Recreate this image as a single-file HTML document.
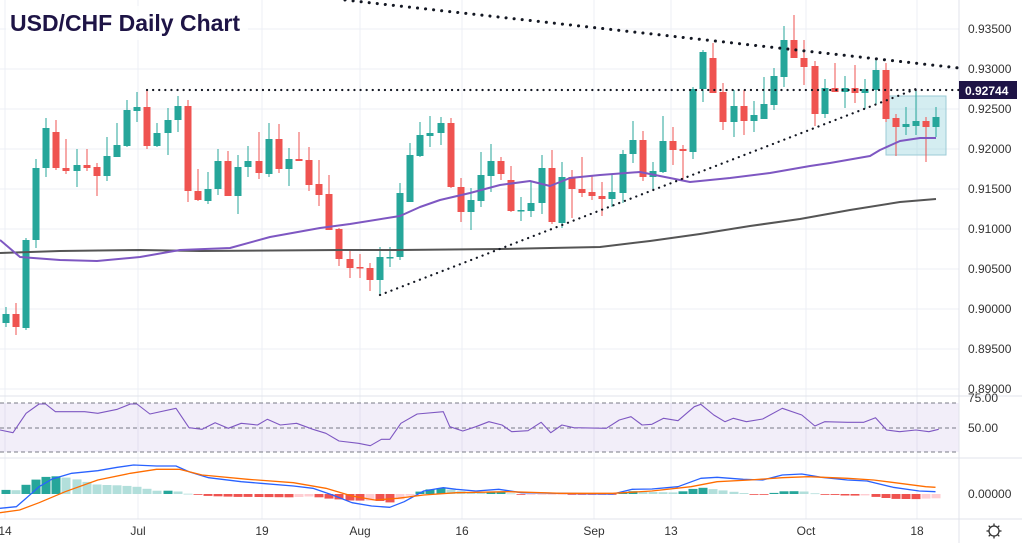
<!DOCTYPE html>
<html><head><meta charset="utf-8"><style>
html,body{margin:0;padding:0;background:#fff;}
svg{display:block;font-family:"Liberation Sans",sans-serif;}
</style></head><body>
<svg id="c" width="1022" height="543" viewBox="0 0 1022 543" xmlns="http://www.w3.org/2000/svg"></svg>
<script>
const S=document.getElementById('c');let h='';
function L(x1,y1,x2,y2,c,w,extra){h+=`<line x1="${x1}" y1="${y1}" x2="${x2}" y2="${y2}" stroke="${c}" stroke-width="${w}" ${extra||''}/>`;}
function T(x,y,t,s,c,extra){h+=`<text x="${x}" y="${y}" font-size="${s}" fill="${c}" ${extra||''}>${t}</text>`;}
function P(pts,c,w,extra){h+=`<polyline fill="none" stroke="${c}" stroke-width="${w}" stroke-linejoin="round" points="${pts.map(p=>p.join(',')).join(' ')}" ${extra||''}/>`;}
const gy=[29,69,109,149,189,229,269,309,349,389];
gy.forEach(y=>L(0,y,959,y,'#eceff5',1));
const dx=[[5,'14'],[138,'Jul'],[262,'19'],[360,'Aug'],[462,'16'],[594,'Sep'],[671,'13'],[806,'Oct'],[917,'18']];
dx.forEach(d=>L(d[0],0,d[0],519,'#eceff5',1));
h+=`<rect x="0" y="403" width="959" height="49" fill="#7e57c2" fill-opacity="0.1"/>`;
[403,428,452].forEach(y=>L(0,y,959,y,'#787b86',1,'stroke-dasharray="4,3"'));
L(0,396,1022,396,'#e0e3eb',1);L(0,458,1022,458,'#e0e3eb',1);L(0,519,1022,519,'#e0e3eb',1);
L(959,0,959,543,'#e0e3eb',1);
h+=`<rect x="886" y="96" width="60" height="59" fill="#9fd6e0" fill-opacity="0.45" stroke="#9ccbd6" stroke-width="1"/>`;
const C=[[6,'g',314,323,307,327],[16,'r',314,327,303,335],[26,'g',240,328,238,330],[36,'g',168,240,159,248],[46,'g',128,168,118,177],[56,'r',132,168,120,170],[66,'r',168,171,139,174],[77,'g',165,171,149,187],[87,'r',165,168,149,171],[97,'r',167,176,163,196],[107,'g',156,176,137,181],[117,'g',145,157,123,157],[127,'g',110,146,100,147],[137,'g',107,111,92,122],[147,'r',107,146,89,149],[157,'g',133,146,123,147],[168,'g',120,133,108,155],[178,'g',106,120,96,132],[188,'r',106,191,100,202],[198,'r',191,200,169,201],[208,'g',189,201,172,204],[218,'g',161,189,149,195],[228,'r',161,196,151,196],[238,'g',167,196,155,214],[248,'g',161,167,146,177],[259,'r',161,173,132,179],[269,'g',139,174,123,177],[279,'r',139,169,124,173],[289,'g',159,169,148,186],[299,'r',159,161,132,161],[309,'r',160,185,147,191],[319,'r',184,195,160,206],[329,'r',194,230,175,230],[339,'r',229,259,228,266],[350,'r',259,268,249,278],[360,'r',267,268,254,278],[370,'r',268,280,263,291],[380,'g',257,280,247,296],[390,'g',257,258,247,267],[400,'g',193,257,183,260],[410,'g',155,202,143,202],[420,'g',135,156,122,157],[430,'g',133,136,116,147],[441,'g',123,133,117,145],[451,'r',123,187,118,188],[461,'r',187,212,178,222],[471,'g',200,212,188,230],[481,'g',175,201,152,207],[491,'g',161,176,144,192],[501,'r',161,174,157,180],[511,'r',180,211,166,212],[521,'g',210,211,197,221],[531,'g',203,211,182,217],[542,'g',168,203,155,214],[552,'r',168,222,150,224],[562,'g',177,223,162,228],[572,'r',177,189,170,218],[582,'r',189,193,157,197],[592,'r',192,196,175,200],[602,'r',196,199,182,216],[612,'g',192,199,174,207],[623,'g',154,193,150,203],[633,'g',140,154,121,163],[643,'r',140,177,131,181],[653,'g',171,177,162,189],[663,'g',141,172,116,173],[673,'r',141,150,127,165],[683,'r',149,151,145,180],[693,'g',89,152,87,159],[703,'g',52,89,50,102],[713,'r',58,93,43,93],[723,'r',92,122,83,130],[734,'g',106,122,90,137],[744,'r',106,121,90,135],[754,'g',115,121,101,132],[764,'g',104,119,77,119],[774,'g',76,105,68,110],[784,'g',40,77,26,87],[794,'r',40,58,15,58],[804,'r',58,67,40,85],[815,'r',66,114,61,126],[825,'g',88,114,79,118],[835,'r',88,92,63,92],[845,'g',88,92,76,108],[855,'r',88,93,65,103],[865,'g',89,93,79,109],[876,'g',70,90,58,105],[886,'r',70,119,63,122],[896,'r',118,127,114,156],[906,'g',124,127,107,135],[916,'g',121,126,89,135],[926,'r',121,127,117,162],[936,'g',117,127,107,137]];
C.forEach(c=>{const col=c[1]=='g'?'#26a69a':'#ef5350';L(c[0],c[4],c[0],c[5],col,1);h+=`<rect x="${c[0]-3.5}" y="${c[2]}" width="7" height="${Math.max(1.5,c[3]-c[2])}" fill="${col}"/>`;});
P([[0,253],[60,251],[140,250],[200,251],[340,250],[400,250],[500,249],[550,248],[600,247],[650,241],[700,234],[750,226],[800,219],[850,210],[900,202],[936,199]],'#555',2);
P([[0,240],[20,257],[60,260],[97,261],[140,257],[180,250],[230,248],[270,237],[320,228],[350,224],[400,216],[420,207],[440,200],[470,193],[500,185],[530,181],[550,186],[570,178],[600,175],[640,172],[680,180],[690,182],[730,178],[770,173],[810,166],[830,163],[870,156],[880,150],[900,141],[920,138],[936,138]],'#7e57c2',2);
L(345,0,959,68,'#131722',3,'stroke-dasharray="0.1,8" stroke-linecap="round"');
L(147,90,959,90,'#131722',2.2,'stroke-dasharray="0.1,6" stroke-linecap="round"');
L(380,295,916,89,'#131722',2.2,'stroke-dasharray="0.1,6" stroke-linecap="round"');
const sx=1.534;
const R=[[0,150],[20,158],[40,100],[60,72],[70,72],[85,95],[130,95],[150,100],[180,88],[200,72],[210,72],[230,102],[270,85],[290,143],[310,148],[330,128],[350,145],[370,130],[395,135],[410,118],[430,135],[455,130],[480,148],[500,160],[520,183],[550,190],[568,197],[585,178],[598,178],[615,130],[640,102],[680,95],[690,140],[710,153],[730,140],[750,125],[770,135],[785,155],[810,152],[830,127],[845,158],[862,135],[880,143],[930,145],[950,120],[968,110],[985,135],[1000,133],[1018,115],[1040,122],[1065,80],[1075,73],[1095,105],[1112,125],[1125,115],[1145,125],[1170,117],[1200,85],[1230,105],[1250,138],[1265,125],[1300,127],[1325,127],[1343,113],[1360,150],[1380,155],[1405,150],[1425,155],[1440,148]].map(p=>[(p[0]/sx).toFixed(1),(380+p[1]/3).toFixed(1)]);
P(R,'#7e57c2',1.1);
const B=[[0,385],[25,380],[40,355],[60,320],[80,297],[110,280],[150,272],[180,262],[205,255],[240,258],[270,258],[290,275],[320,293],[370,305],[400,310],[450,318],[480,325],[510,345],[540,368],[570,378],[598,382],[620,365],[650,333],[680,323],[700,328],[730,333],[765,328],[800,338],[860,340],[940,342],[970,328],[1000,327],[1040,320],[1075,295],[1100,292],[1140,298],[1170,300],[1200,285],[1230,282],[1260,292],[1300,300],[1330,303],[1370,322],[1410,333],[1435,335]].map(p=>[p[0]/sx,380+p[1]/3]);
const O=[[0,398],[30,390],[60,368],[100,335],[150,300],[200,280],[240,268],[275,268],[310,285],[380,298],[450,308],[500,325],[540,348],[575,360],[610,355],[650,345],[700,338],[780,335],[860,340],[940,340],[1000,333],[1060,320],[1100,305],[1150,300],[1200,293],[1240,290],[1300,295],[1340,300],[1380,310],[1420,320],[1435,322]].map(p=>[p[0]/sx,380+p[1]/3]);
function iy(a,x){for(let i=1;i<a.length;i++){if(x<=a[i][0]){const t=(x-a[i-1][0])/(a[i][0]-a[i-1][0]);return a[i-1][1]+t*(a[i][1]-a[i-1][1]);}}return a[a.length-1][1];}
const z=494;let prev=0;
C.forEach(c=>{const v=iy(O,c[0])-iy(B,c[0]);let col;if(v>=0)col=v>=prev?'#26a69a':'#b2dfdb';else col=v<=prev?'#ef5350':'#ffcdd2';prev=v;const y=v>=0?z-v:z;h+=`<rect x="${c[0]-4.5}" y="${y.toFixed(1)}" width="9" height="${Math.max(0.8,Math.abs(v)).toFixed(1)}" fill="${col}"/>`;});
P(B.map(p=>[p[0].toFixed(1),p[1].toFixed(1)]),'#2962ff',1.3);
P(O.map(p=>[p[0].toFixed(1),p[1].toFixed(1)]),'#ff6d00',1.3);
const pl=['0.93500','0.93000','0.92500','0.92000','0.91500','0.91000','0.90500','0.90000','0.89500','0.89000'];
pl.forEach((t,i)=>T(968,gy[i]+4,t,12,'#333'));
h+=`<rect x="959" y="81" width="58" height="18" fill="#1e1446"/>`;
T(965,95,'0.92744',12,'#fff','font-weight="bold"');
T(968,402,'75.00',12,'#333');T(968,432,'50.00',12,'#333');T(968,498,'0.00000',12,'#333');
dx.forEach(d=>T(d[0],535,d[1],12,'#333','text-anchor="middle"'));
h+=`<circle cx="994" cy="531" r="5" fill="none" stroke="#333" stroke-width="1.3"/>`;
for(let a=0;a<8;a++){const r=a*Math.PI/4;L(994+5*Math.cos(r),531+5*Math.sin(r),994+7.5*Math.cos(r),531+7.5*Math.sin(r),'#333',1.3);}
h+=`<rect x="6" y="6" width="242" height="34" fill="#fff" fill-opacity="0.8"/>`;
T(10,31,'USD/CHF Daily Chart',23,'#1e1446','font-weight="bold"');
S.innerHTML=h;
</script>
</body></html>
